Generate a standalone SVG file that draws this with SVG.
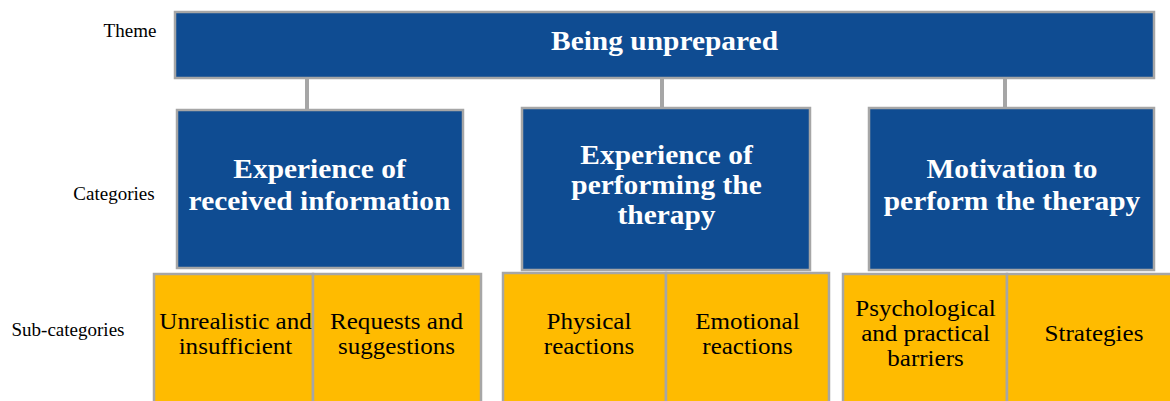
<svg xmlns="http://www.w3.org/2000/svg" width="1170" height="401" viewBox="0 0 1170 401">
<style>
.blue{fill:#0F4C92;stroke:#A6A6A6;stroke-width:2.5}
.org{fill:#FFBB00;stroke:#A6A6A6;stroke-width:2.5}
.conn{stroke:#A6A6A6;stroke-width:4;fill:none}
text{font-family:'Liberation Serif','Times New Roman','DejaVu Serif',serif}
.hd{font-weight:bold;fill:#fff;text-anchor:middle;font-size:27px}
.sub{font-size:23px;fill:#000;text-anchor:middle}
.lbl{font-size:19px;fill:#000;text-anchor:middle}
</style>
<rect width="1170" height="401" fill="#fff"/>
<g id="labels">
<text class="lbl" x="130" y="37">Theme</text>
<text class="lbl" x="114" y="200">Categories</text>
<text class="lbl" x="68" y="336">Sub-categories</text>
</g>
<g id="connectors">
<line class="conn" x1="307" y1="78" x2="307" y2="110"/>
<line class="conn" x1="662" y1="78" x2="662" y2="108"/>
<line class="conn" x1="1005" y1="78" x2="1005" y2="108"/>
</g>
<g id="theme">
<rect class="blue" x="175" y="12" width="979" height="66"/>
<text class="hd" transform="matrix(1.09 0 0 1 664.5 0)" x="0" y="50">Being unprepared</text>
</g>
<g id="cat1">
<rect class="blue" x="177" y="110" width="286" height="158"/>
<text class="hd" transform="matrix(1.09 0 0 1 319.5 0)" x="0" y="178">Experience of</text>
<text class="hd" transform="matrix(1.09 0 0 1 319.5 0)" x="0" y="210">received information</text>
</g>
<g id="cat2">
<rect class="blue" x="522" y="108" width="288" height="162"/>
<text class="hd" transform="matrix(1.09 0 0 1 666.5 0)" x="0" y="164">Experience of</text>
<text class="hd" transform="matrix(1.09 0 0 1 666.5 0)" x="0" y="194">performing the</text>
<text class="hd" transform="matrix(1.09 0 0 1 666.5 0)" x="0" y="224">therapy</text>
</g>
<g id="cat3">
<rect class="blue" x="869" y="108" width="285" height="162"/>
<text class="hd" transform="matrix(1.09 0 0 1 1012 0)" x="0" y="178">Motivation to</text>
<text class="hd" transform="matrix(1.09 0 0 1 1012 0)" x="0" y="210">perform the therapy</text>
</g>
<g id="sub1">
<rect class="org" x="154" y="274" width="159" height="130"/>
<text class="sub" transform="matrix(1.09 0 0 1 235.5 0)" x="0" y="329">Unrealistic and</text>
<text class="sub" transform="matrix(1.09 0 0 1 235.5 0)" x="0" y="354">insufficient</text>
</g>
<g id="sub2">
<rect class="org" x="313" y="274" width="168" height="130"/>
<text class="sub" transform="matrix(1.09 0 0 1 396.5 0)" x="0" y="329">Requests and</text>
<text class="sub" transform="matrix(1.09 0 0 1 396.5 0)" x="0" y="354">suggestions</text>
</g>
<g id="sub3">
<rect class="org" x="503" y="273" width="163" height="131"/>
<text class="sub" transform="matrix(1.09 0 0 1 589 0)" x="0" y="329">Physical</text>
<text class="sub" transform="matrix(1.09 0 0 1 589 0)" x="0" y="354">reactions</text>
</g>
<g id="sub4">
<rect class="org" x="666" y="273" width="163" height="131"/>
<text class="sub" transform="matrix(1.09 0 0 1 747.5 0)" x="0" y="329">Emotional</text>
<text class="sub" transform="matrix(1.09 0 0 1 747.5 0)" x="0" y="354">reactions</text>
</g>
<g id="sub5">
<rect class="org" x="843" y="274" width="164" height="130"/>
<text class="sub" transform="matrix(1.09 0 0 1 925.5 0)" x="0" y="316">Psychological</text>
<text class="sub" transform="matrix(1.09 0 0 1 925.5 0)" x="0" y="341">and practical</text>
<text class="sub" transform="matrix(1.09 0 0 1 925.5 0)" x="0" y="366">barriers</text>
</g>
<g id="sub6">
<rect class="org" x="1007" y="274" width="165" height="130"/>
<text class="sub" transform="matrix(1.09 0 0 1 1094 0)" x="0" y="341">Strategies</text>
</g>
</svg>
